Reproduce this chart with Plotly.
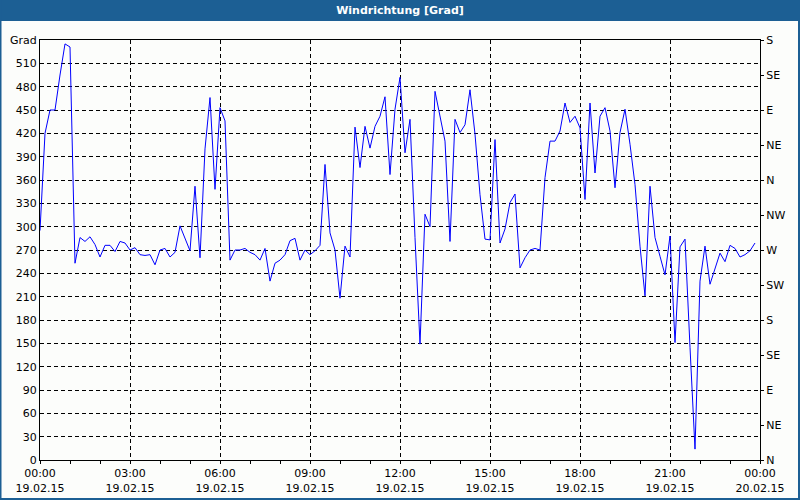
import pandas as pd
import plotly.graph_objects as go

# ---- data ----
start_time = "2015-02-19 00:00"
interval = "10min"
wind_dir = [
    295, 420, 450, 450, 495, 535, 531, 253, 286, 281, 287, 277,
    261, 276, 276, 268, 281, 279, 270, 273, 264, 263, 264, 251,
    270, 272, 261, 267, 301, 284, 269, 352, 260, 400, 466, 348,
    453, 436, 257, 270, 270, 272, 267, 264, 257, 272, 230, 253,
    257, 264, 282, 285, 257, 270, 264, 269, 276, 380, 292, 270,
    208, 275, 261, 428, 376, 429, 401, 429, 442, 467, 367, 451,
    492, 395, 438, 286, 149, 316, 300, 474, 440, 410, 281, 438,
    421, 431, 476, 419, 341, 284, 283, 412, 279, 297, 331, 342,
    247, 260, 270, 272, 270, 363, 410, 410, 423, 459, 434, 442,
    427, 335, 459, 369, 442, 453, 423, 350, 421, 451, 406, 354,
    275, 211, 352, 286, 262, 238, 288, 151, 274, 284, 145, 14,
    230, 275, 226, 247, 266, 255, 276, 272, 261, 264, 269, 279,
]
times = pd.date_range(start_time, periods=len(wind_dir), freq=interval)

left_tickvals = list(range(0, 541, 30))
left_ticktext = [str(v) for v in left_tickvals[:-1]] + ["Grad"]
right_tickvals = list(range(0, 541, 45))
right_ticktext = ["N", "NE", "E", "SE", "S", "SW", "W", "NW",
                  "N", "NE", "E", "SE", "S"]
x_range = ["2015-02-19 00:00", "2015-02-20 00:00"]

BLUE = "#1c5f94"
BG = "#fcfdfb"
FONT = dict(family="DejaVu Sans", size=11, color="black")

fig = go.Figure()
fig.add_trace(go.Scatter(x=times, y=wind_dir, mode="lines",
                         line=dict(color="#0000ff", width=1),
                         showlegend=False))
fig.add_trace(go.Scatter(x=times, y=wind_dir, mode="lines", yaxis="y2",
                         line=dict(color="rgba(0,0,0,0)", width=0),
                         hoverinfo="skip", showlegend=False))

W, H = 800, 500
ml, mr, mt, mb = 40, 40, 40, 40
pw, ph = W - ml - mr, H - mt - mb

def px(x):
    return (x - ml) / pw

def py(y):
    return (H - mb - y) / ph

shapes = [
    dict(type="rect", xref="paper", yref="paper", layer="below",
         x0=px(0), x1=px(W), y0=py(21), y1=py(0),
         fillcolor=BLUE, line=dict(width=0)),
    dict(type="rect", xref="paper", yref="paper", layer="below",
         x0=px(0), x1=px(1.5), y0=py(H), y1=py(0),
         fillcolor=BLUE, line=dict(width=0)),
    dict(type="rect", xref="paper", yref="paper", layer="below",
         x0=px(W - 2), x1=px(W), y0=py(H), y1=py(0),
         fillcolor=BLUE, line=dict(width=0)),
    dict(type="rect", xref="paper", yref="paper", layer="below",
         x0=px(0), x1=px(W), y0=py(H), y1=py(H - 2),
         fillcolor=BLUE, line=dict(width=0)),
]

fig.update_layout(
    width=W, height=H,
    margin=dict(l=ml, r=mr, t=mt, b=mb, autoexpand=False),
    paper_bgcolor=BG, plot_bgcolor=BG,
    font=FONT,
    title=dict(text="Windrichtung [Grad]", x=0.5, xanchor="center",
               xref="container", yref="container",
               y=1 - 10.5 / H, yanchor="middle", automargin=False,
               font=dict(family="DejaVu Sans", size=11, color="white",
                         weight="bold")),
    shapes=shapes,
    xaxis=dict(type="date", range=x_range, automargin=False,
               tick0=x_range[0], dtick=3 * 3600000,
               tickformat="%H:%M<br>%d.%m.%y",
               ticks="outside", ticklen=3, tickcolor="black",
               showline=True, linecolor="black", linewidth=1, mirror=True,
               showgrid=True, gridcolor="black", gridwidth=1,
               griddash="4px,3px",
               minor=dict(dtick=3600000, ticks="outside", ticklen=3,
                          tickcolor="black", showgrid=False),
               zeroline=False, tickfont=FONT),
    yaxis=dict(range=[0, 540], tickvals=left_tickvals, automargin=False,
               ticktext=left_ticktext, ticks="",
               showline=True, linecolor="black", linewidth=1, mirror=True,
               showgrid=True, gridcolor="black", gridwidth=1,
               griddash="4px,3px", zeroline=False, tickfont=FONT),
    yaxis2=dict(range=[0, 540], overlaying="y", side="right",
                automargin=False,
                tickvals=right_tickvals, ticktext=right_ticktext,
                ticks="outside", ticklen=3, tickcolor="black",
                showline=True, linecolor="black", showgrid=False,
                zeroline=False, tickfont=FONT),
)

fig.write_html("out.html",
               config={"displayModeBar": False},
               post_script="document.body.style.margin='0';"
                           "document.body.style.overflow='hidden';")
